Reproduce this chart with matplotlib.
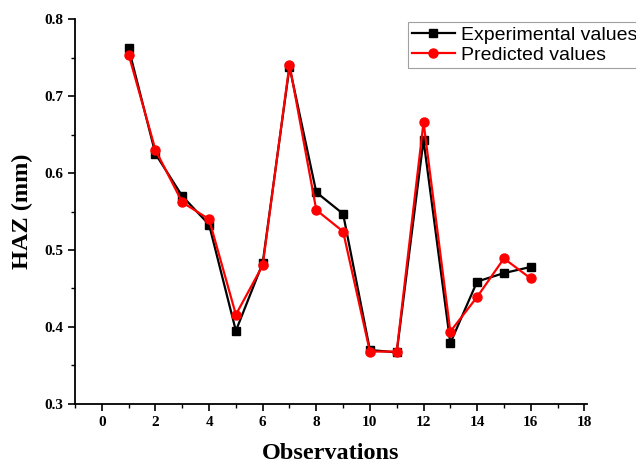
import numpy as np
import matplotlib.pyplot as plt
from matplotlib.ticker import MultipleLocator, FormatStrFormatter

obs = np.arange(1, 17)
experimental = [0.762, 0.625, 0.570, 0.533, 0.395, 0.483, 0.738, 0.575,
                0.547, 0.370, 0.367, 0.643, 0.379, 0.459, 0.470, 0.478]
predicted = [0.754, 0.630, 0.562, 0.540, 0.416, 0.480, 0.741, 0.552,
             0.524, 0.368, 0.368, 0.666, 0.394, 0.439, 0.489, 0.463]

fig = plt.figure(figsize=(6.36, 4.68), dpi=100)
ax = fig.add_axes([0.118, 0.137, 0.805, 0.822])

ax.plot(obs, experimental, color="black", marker="s", markersize=6,
        linewidth=1.6, label="Experimental values")
ax.plot(obs, predicted, color="red", marker="o", markersize=6.5,
        linewidth=1.6, label="Predicted values")

ax.set_xlim(-1, 18.1)
ax.set_ylim(0.3, 0.8)
ax.xaxis.set_major_locator(MultipleLocator(2))
ax.xaxis.set_minor_locator(MultipleLocator(1))
ax.yaxis.set_major_locator(MultipleLocator(0.1))
ax.yaxis.set_minor_locator(MultipleLocator(0.05))
ax.yaxis.set_major_formatter(FormatStrFormatter("%.1f"))

for s in ["top", "right"]:
    ax.spines[s].set_visible(False)
for s in ["left", "bottom"]:
    ax.spines[s].set_linewidth(1.3)
ax.tick_params(which="major", length=5, width=1.2, direction="out")
ax.tick_params(which="minor", length=3, width=1.0, direction="out")

for lab in ax.get_xticklabels() + ax.get_yticklabels():
    lab.set_fontfamily("Liberation Serif")
    lab.set_fontweight("bold")
    lab.set_fontsize(11)

ax.set_xlabel("Observations", fontfamily="Liberation Serif",
              fontweight="bold", fontsize=17.5, labelpad=10)
ax.set_ylabel("HAZ (mm)", fontfamily="Liberation Serif",
              fontweight="bold", fontsize=17.5, labelpad=8)

leg = fig.legend(loc="upper left", bbox_to_anchor=(408 / 636, 1 - 22 / 468),
                 prop={"family": "Liberation Sans", "size": 14},
                 frameon=True, fancybox=False, handlelength=2.2,
                 borderpad=0.2, labelspacing=0.15, handletextpad=0.3,
                 borderaxespad=0)
leg.get_frame().set_edgecolor("#888888")
leg.get_frame().set_linewidth(0.8)

fig.savefig("out.png", dpi=100)
